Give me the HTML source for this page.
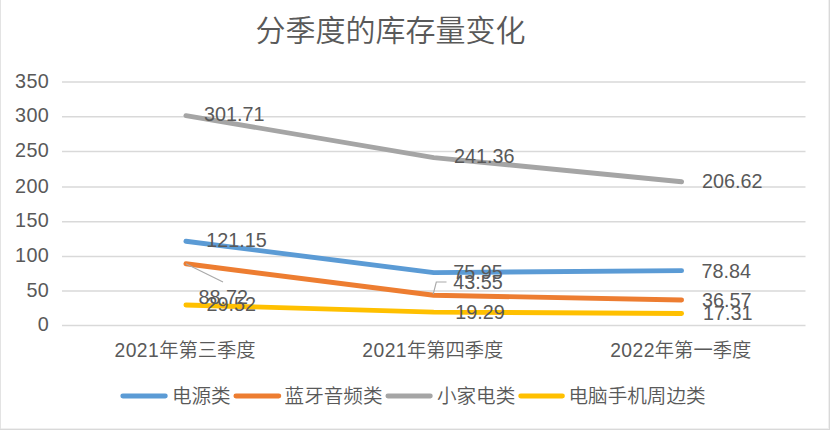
<!DOCTYPE html>
<html><head><meta charset="utf-8"><title>分季度的库存量变化</title>
<style>html,body{margin:0;padding:0;background:#fff;} svg{display:block;}</style>
</head><body>
<svg width="833" height="432" viewBox="0 0 833 432">
<rect x="0" y="0" width="833" height="432" fill="#fff"/>
<line x1="0.5" y1="0" x2="0.5" y2="429.5" stroke="#E3E3E3" stroke-width="1"/>
<line x1="828.5" y1="0" x2="828.5" y2="428.5" stroke="#F0F0F0" stroke-width="1"/>
<line x1="1" y1="428.5" x2="829" y2="428.5" stroke="#F0F0F0" stroke-width="1"/>
<line x1="829.5" y1="0" x2="829.5" y2="429.5" stroke="#D9D9D9" stroke-width="1"/>
<line x1="0" y1="429.5" x2="830" y2="429.5" stroke="#D9D9D9" stroke-width="1"/>
<line x1="62.0" y1="325.50" x2="805.5" y2="325.50" stroke="#D9D9D9" stroke-width="1.5"/>
<line x1="62.0" y1="291.00" x2="805.5" y2="291.00" stroke="#D9D9D9" stroke-width="1.5"/>
<line x1="62.0" y1="256.40" x2="805.5" y2="256.40" stroke="#D9D9D9" stroke-width="1.5"/>
<line x1="62.0" y1="221.70" x2="805.5" y2="221.70" stroke="#D9D9D9" stroke-width="1.5"/>
<line x1="62.0" y1="187.10" x2="805.5" y2="187.10" stroke="#D9D9D9" stroke-width="1.5"/>
<line x1="62.0" y1="151.40" x2="805.5" y2="151.40" stroke="#D9D9D9" stroke-width="1.5"/>
<line x1="62.0" y1="116.70" x2="805.5" y2="116.70" stroke="#D9D9D9" stroke-width="1.5"/>
<line x1="62.0" y1="82.00" x2="805.5" y2="82.00" stroke="#D9D9D9" stroke-width="1.5"/>
<text x="49.0" y="331.10" text-anchor="end" letter-spacing="0.3" font-family='"Liberation Sans", "Noto Sans CJK SC", sans-serif' font-size="19.8" fill="#595959">0</text>
<text x="49.0" y="296.60" text-anchor="end" letter-spacing="0.3" font-family='"Liberation Sans", "Noto Sans CJK SC", sans-serif' font-size="19.8" fill="#595959">50</text>
<text x="49.0" y="262.00" text-anchor="end" letter-spacing="0.3" font-family='"Liberation Sans", "Noto Sans CJK SC", sans-serif' font-size="19.8" fill="#595959">100</text>
<text x="49.0" y="227.30" text-anchor="end" letter-spacing="0.3" font-family='"Liberation Sans", "Noto Sans CJK SC", sans-serif' font-size="19.8" fill="#595959">150</text>
<text x="49.0" y="192.70" text-anchor="end" letter-spacing="0.3" font-family='"Liberation Sans", "Noto Sans CJK SC", sans-serif' font-size="19.8" fill="#595959">200</text>
<text x="49.0" y="157.00" text-anchor="end" letter-spacing="0.3" font-family='"Liberation Sans", "Noto Sans CJK SC", sans-serif' font-size="19.8" fill="#595959">250</text>
<text x="49.0" y="122.30" text-anchor="end" letter-spacing="0.3" font-family='"Liberation Sans", "Noto Sans CJK SC", sans-serif' font-size="19.8" fill="#595959">300</text>
<text x="49.0" y="87.60" text-anchor="end" letter-spacing="0.3" font-family='"Liberation Sans", "Noto Sans CJK SC", sans-serif' font-size="19.8" fill="#595959">350</text>
<text x="185.02" y="356.5" text-anchor="middle" font-family='"Liberation Sans", "Noto Sans CJK SC", sans-serif' font-size="19.3" font-weight="350" fill="#595959"><tspan letter-spacing="0.45">2021</tspan>年第三季度</text>
<text x="432.85" y="356.5" text-anchor="middle" font-family='"Liberation Sans", "Noto Sans CJK SC", sans-serif' font-size="19.3" font-weight="350" fill="#595959"><tspan letter-spacing="0.45">2021</tspan>年第四季度</text>
<text x="680.68" y="356.5" text-anchor="middle" font-family='"Liberation Sans", "Noto Sans CJK SC", sans-serif' font-size="19.3" font-weight="350" fill="#595959"><tspan letter-spacing="0.45">2022</tspan>年第一季度</text>
<polyline points="185.92,241.21 433.75,272.66 681.58,270.65" fill="none" stroke="#5B9BD5" stroke-width="4.9" stroke-linecap="round" stroke-linejoin="round"/>
<polyline points="185.92,263.78 433.75,295.20 681.58,300.06" fill="none" stroke="#ED7D31" stroke-width="4.9" stroke-linecap="round" stroke-linejoin="round"/>
<polyline points="185.92,115.60 433.75,157.58 681.58,181.75" fill="none" stroke="#A5A5A5" stroke-width="4.9" stroke-linecap="round" stroke-linejoin="round"/>
<polyline points="185.92,304.96 433.75,312.08 681.58,313.46" fill="none" stroke="#FFC000" stroke-width="4.9" stroke-linecap="round" stroke-linejoin="round"/>
<line x1="185.92" y1="263.78" x2="223" y2="282" stroke="#A9A9A9" stroke-width="1.15"/>
<polyline points="433.25,294.20 436.3,282 446.5,282" fill="none" stroke="#A9A9A9" stroke-width="1.15"/>
<text x="203.90" y="120.80" font-family='"Liberation Sans", "Noto Sans CJK SC", sans-serif' font-size="19.8" fill="#595959">301.71</text>
<text x="453.90" y="163.40" font-family='"Liberation Sans", "Noto Sans CJK SC", sans-serif' font-size="19.8" fill="#595959">241.36</text>
<text x="702.00" y="187.75" font-family='"Liberation Sans", "Noto Sans CJK SC", sans-serif' font-size="19.8" fill="#595959">206.62</text>
<text x="206.20" y="246.50" font-family='"Liberation Sans", "Noto Sans CJK SC", sans-serif' font-size="19.8" fill="#595959">121.15</text>
<text x="453.20" y="278.75" font-family='"Liberation Sans", "Noto Sans CJK SC", sans-serif' font-size="19.8" fill="#595959">75.95</text>
<text x="701.40" y="277.80" font-family='"Liberation Sans", "Noto Sans CJK SC", sans-serif' font-size="19.8" fill="#595959">78.84</text>
<text x="198.40" y="303.80" font-family='"Liberation Sans", "Noto Sans CJK SC", sans-serif' font-size="19.8" fill="#595959">88.72</text>
<text x="453.20" y="289.10" font-family='"Liberation Sans", "Noto Sans CJK SC", sans-serif' font-size="19.8" fill="#595959">43.55</text>
<text x="701.90" y="306.90" font-family='"Liberation Sans", "Noto Sans CJK SC", sans-serif' font-size="19.8" fill="#595959">36.57</text>
<text x="206.40" y="310.65" font-family='"Liberation Sans", "Noto Sans CJK SC", sans-serif' font-size="19.8" fill="#595959">29.52</text>
<text x="455.30" y="318.70" font-family='"Liberation Sans", "Noto Sans CJK SC", sans-serif' font-size="19.8" fill="#595959">19.29</text>
<text x="703.10" y="320.15" font-family='"Liberation Sans", "Noto Sans CJK SC", sans-serif' font-size="19.8" fill="#595959">17.31</text>
<text x="390.6" y="40.5" text-anchor="middle" font-weight="350" font-family='"Liberation Sans", "Noto Sans CJK SC", sans-serif' font-size="30" fill="#595959">分季度的库存量变化</text>
<line x1="122.80" y1="396" x2="165.30" y2="396" stroke="#5B9BD5" stroke-width="4.9" stroke-linecap="round"/>
<text x="171.90" y="403.1" font-family='"Liberation Sans", "Noto Sans CJK SC", sans-serif' font-size="19.6" font-weight="350" fill="#595959">电源类</text>
<line x1="235.90" y1="396" x2="278.80" y2="396" stroke="#ED7D31" stroke-width="4.9" stroke-linecap="round"/>
<text x="284.60" y="403.1" font-family='"Liberation Sans", "Noto Sans CJK SC", sans-serif' font-size="19.6" font-weight="350" fill="#595959">蓝牙音频类</text>
<line x1="387.90" y1="396" x2="430.30" y2="396" stroke="#A5A5A5" stroke-width="4.9" stroke-linecap="round"/>
<text x="436.90" y="403.1" font-family='"Liberation Sans", "Noto Sans CJK SC", sans-serif' font-size="19.6" font-weight="350" fill="#595959">小家电类</text>
<line x1="520.70" y1="396" x2="562.40" y2="396" stroke="#FFC000" stroke-width="4.9" stroke-linecap="round"/>
<text x="568.50" y="403.1" font-family='"Liberation Sans", "Noto Sans CJK SC", sans-serif' font-size="19.6" font-weight="350" fill="#595959">电脑手机周边类</text>
</svg>
</body></html>
